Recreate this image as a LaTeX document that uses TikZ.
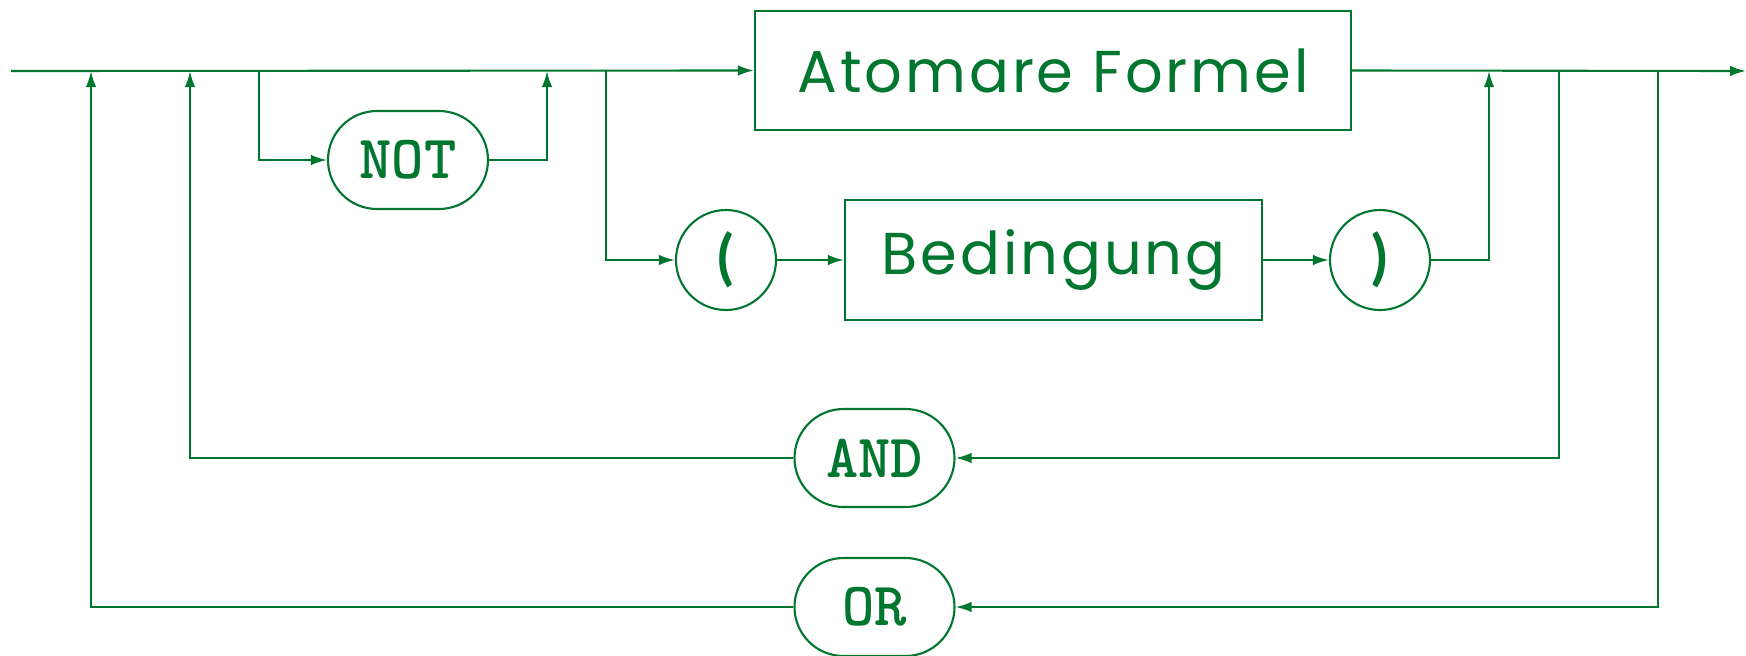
\documentclass[tikz,border=0pt]{standalone}
\usepackage{fontspec}
\usepackage{tikz}
\usetikzlibrary{positioning}
\usetikzlibrary{shapes.misc}
\usetikzlibrary{arrows.meta}
\newfontfamily\labelfont{Poppins}[LetterSpace=5]
\newfontfamily\parenfont{Lato}
\definecolor{syngreen}{RGB}{0,118,46}
\tikzset{every path/.style={syngreen,line width=0.6pt}}
\tikzset{>={Latex[length=1.6mm,width=1.05mm]}}
\tikzset{nonterm/.style={draw,rectangle,inner sep=0pt,text=syngreen,font=\labelfont\fontsize{16.8}{20}\selectfont}}
\tikzset{keyword/.style={draw,rounded rectangle,inner sep=0pt,minimum width=1.6cm,minimum height=0.98cm,text=syngreen,font=\ttfamily\bfseries\fontsize{17.5}{20}\selectfont}}
\tikzset{symbol/.style={draw,circle,inner sep=0pt,minimum size=1cm,text=syngreen,font=\parenfont\bfseries\fontsize{17}{20}\selectfont}}

\begin{document}
\begin{tikzpicture}
\useasboundingbox (0,0) rectangle (17.46,-6.55);
\coordinate (start) at (0.11,-0.71);
\coordinate (end) at (17.46,-0.71);
\coordinate (orjoin) at (0.91,-0.71);
\coordinate (andjoin) at (1.90,-0.71);
\coordinate (notsplit) at (2.59,-0.71);
\coordinate (notjoin) at (5.47,-0.71);
\coordinate (parsplit) at (6.06,-0.71);
\coordinate (parjoin) at (14.89,-0.71);
\coordinate (andsplit) at (15.59,-0.71);
\coordinate (orsplit) at (16.58,-0.71);
\node[nonterm,minimum width=5.96cm,minimum height=1.19cm] (atom) at (10.53,-0.705) {Atomare Formel};
\node[keyword] (not) at (4.08,-1.60) {NOT};
\node[symbol] (lpar) at (7.26,-2.60) {(};
\node[nonterm,minimum width=4.17cm,minimum height=1.20cm] (cond) at (10.535,-2.60) {Bedingung};
\node[symbol] (rpar) at (13.80,-2.60) {)};
\node[keyword] (and) at (8.745,-4.58) {AND};
\node[keyword] (or) at (8.745,-6.07) {OR};
% main line
\draw[->] (start) -- (atom.west);
\draw[->] (atom.east) -- (end);
% optional NOT
\draw[->] (notsplit) |- (not.west);
\draw[->] (not.east) -| (notjoin);
% bracketed condition
\draw[->] (parsplit) |- (lpar.west);
\draw[->] (lpar) -- (cond);
\draw[->] (cond) -- (rpar);
\draw[->] (rpar.east) -| (parjoin);
% loops back
\draw[->] (andsplit) |- (and.east);
\draw[->] (and.west) -| (andjoin);
\draw[->] (orsplit) |- (or.east);
\draw[->] (or.west) -| (orjoin);
\end{tikzpicture}
\end{document}
